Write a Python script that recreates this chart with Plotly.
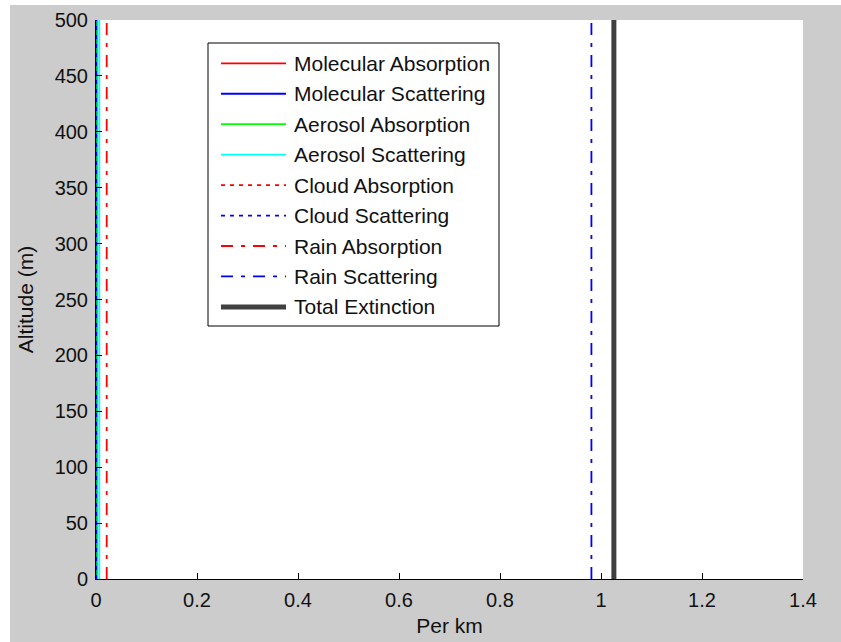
import plotly.graph_objects as go

# Altitude span of each extinction profile (m)
altitude_m = [0, 500]

# Extinction coefficients per km, constant with altitude
molecular_absorption = [0.0002, 0.0002]
molecular_scattering = [0.0008, 0.0008]
aerosol_absorption = [0.0025, 0.0025]
aerosol_scattering = [0.0065, 0.0065]
cloud_absorption = [0.0, 0.0]
cloud_scattering = [0.0, 0.0]
rain_absorption = [0.0212, 0.0212]
rain_scattering = [0.981, 0.981]
total_extinction = [1.0255, 1.0255]

series_names = [
    "Molecular Absorption", "Molecular Scattering", "Aerosol Absorption",
    "Aerosol Scattering", "Cloud Absorption", "Cloud Scattering",
    "Rain Absorption", "Rain Scattering", "Total Extinction",
]
series_values = [
    molecular_absorption, molecular_scattering, aerosol_absorption,
    aerosol_scattering, cloud_absorption, cloud_scattering,
    rain_absorption, rain_scattering, total_extinction,
]

# Line styles (MATLAB-like)
DOT = "4px,5px"
DASHDOT = "12px,8px,4px,8px"
series_colors = ["#ff0000", "#0000ff", "#00ff00", "#00ffff",
                 "#ff0000", "#0000ff", "#ff0000", "#0000ff", "#404040"]
series_dash = ["solid", "solid", "solid", "solid",
               DOT, DOT, DASHDOT, DASHDOT, "solid"]
series_width = [1.8, 1.8, 1.8, 1.8, 1.8, 1.8, 1.8, 1.8, 5]

x_range = [0, 1.4]
y_range = [0, 500]

FONT = "Liberation Sans, Arial, sans-serif"
W, H = 841, 642
L, R, T, B = 96, 38, 20, 63
PW, PH = W - L - R, H - T - B


def px(xp):
    return (xp - L) / PW


def py(yp):
    return (H - B - yp) / PH


fig = go.Figure()
for name, vals, col, dash, wid in zip(series_names, series_values,
                                      series_colors, series_dash, series_width):
    fig.add_trace(go.Scatter(
        x=vals, y=altitude_m, mode="lines", name=name,
        line=dict(color=col, dash=dash, width=wid),
        showlegend=False,
    ))

shapes = []
annotations = []

# Thin white border strips around the grey figure area
shapes.append(dict(type="rect", xref="paper", yref="paper",
                   x0=px(-5), x1=px(10), y0=py(H), y1=py(-5),
                   fillcolor="white", line=dict(width=0), layer="below"))
shapes.append(dict(type="rect", xref="paper", yref="paper",
                   x0=px(-5), x1=px(W + 5), y0=py(5), y1=py(-5),
                   fillcolor="white", line=dict(width=0), layer="below"))

# Legend box
leg_left, leg_top, leg_right, leg_bottom = 208, 43, 499, 326
shapes.append(dict(type="rect", xref="paper", yref="paper",
                   x0=px(leg_left), x1=px(leg_right),
                   y0=py(leg_bottom), y1=py(leg_top),
                   fillcolor="white", line=dict(color="black", width=1),
                   layer="above"))
row0, row_step = 63.3, 30.45
for i, (name, col, dash, wid) in enumerate(zip(series_names, series_colors,
                                               series_dash, series_width)):
    yc = row0 + i * row_step
    shapes.append(dict(type="line", xref="paper", yref="paper",
                       x0=px(221), x1=px(286), y0=py(yc), y1=py(yc),
                       line=dict(color=col, dash=dash, width=wid),
                       layer="above"))
    annotations.append(dict(xref="paper", yref="paper", x=px(292), y=py(yc),
                            xanchor="left", yanchor="middle", text=name,
                            showarrow=False,
                            font=dict(family=FONT, size=21, color="#111111")))

axis_common = dict(
    showgrid=False, zeroline=False, showline=True, linecolor="black",
    linewidth=1, ticks="inside", ticklen=6, tickcolor="black", tickwidth=1,
    mirror=False, layer="above traces", automargin=False,
    tickfont=dict(family=FONT, size=20, color="#111111"),
)

fig.update_layout(
    width=W, height=H, autosize=False,
    margin=dict(l=L, r=R, t=T, b=B, pad=0, autoexpand=False),
    paper_bgcolor="#cccccc", plot_bgcolor="white",
    xaxis=dict(range=x_range, dtick=0.2, tick0=0,
               title=dict(text="Per km", standoff=8,
                          font=dict(family=FONT, size=21, color="#111111")),
               ticklabelstandoff=3, **axis_common),
    yaxis=dict(range=y_range, dtick=50, tick0=0,
               title=dict(text="Altitude (m)", standoff=15,
                          font=dict(family=FONT, size=21, color="#111111")),
               ticklabelstandoff=3, **axis_common),
    shapes=shapes, annotations=annotations,
    showlegend=False,
)

fig.write_html("out.html")
